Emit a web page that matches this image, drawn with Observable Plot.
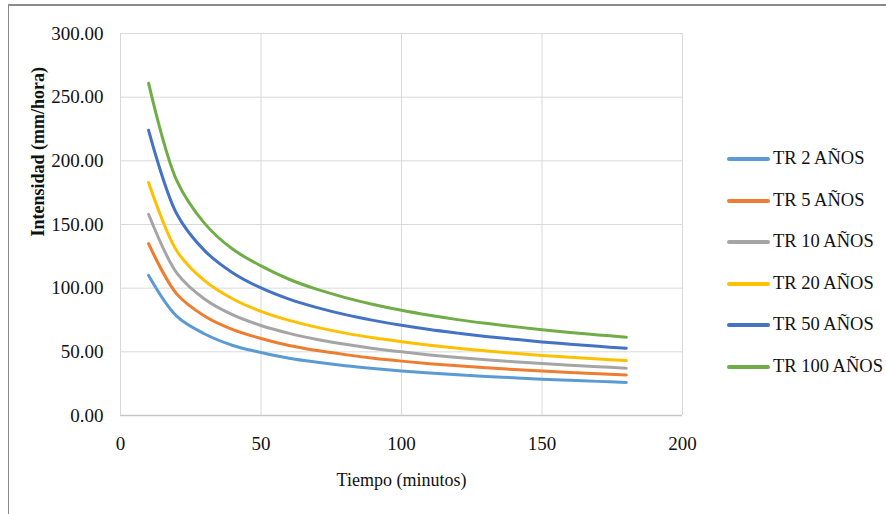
<!DOCTYPE html>
<html>
<head>
<meta charset="utf-8">
<script src="https://cdn.jsdelivr.net/npm/d3@7"></script>
<script src="https://cdn.jsdelivr.net/npm/@observablehq/plot@0.6"></script>
<style>
  html, body { margin: 0; padding: 0; background: #fff; }
  #wrap { position: relative; width: 886px; height: 514px; overflow: hidden; font-family: "Liberation Serif", "Times New Roman", serif; }
  #frameTop { position: absolute; left: 8px; top: 4px; width: 878px; height: 0; border-top: 2px solid #8a8a8a; }
  #frameLeft { position: absolute; left: 8px; top: 4px; width: 0; height: 510px; border-left: 1.5px solid #8a8a8a; }
  #legend { position: absolute; left: 727px; top: 0; }
  .item { position: absolute; left: 0; white-space: nowrap; height: 0; }
  .swatch { position: absolute; left: 0; top: -2px; width: 43px; height: 4px; border-radius: 2px; }
  .lab { position: absolute; left: 46px; top: -12px; font-size: 18.5px; line-height: 23px; color: #111; }
</style>
</head>
<body>
<div id="wrap">
  <div id="chart"></div>
  <div id="frameTop"></div>
  <div id="frameLeft"></div>
  <div id="legend"></div>
</div>
<script>
// Duration (minutes)
const durations = [10, 20, 30, 40, 50, 60, 70, 80, 90, 100, 110, 120, 130, 140, 150, 160, 170, 180];
// Intensity (mm/hora) per return period
const tr2   = [110, 78, 64, 55, 49.5, 45, 41.8, 39.1, 36.9, 35, 33.4, 32, 30.7, 29.6, 28.5, 27.6, 26.8, 26];
const tr5   = [135, 95.5, 78, 67.5, 60.5, 55, 51, 47.8, 45, 42.7, 40.7, 39, 37.5, 36.1, 34.9, 33.8, 32.8, 31.9];
const tr10  = [158, 112, 91.3, 79, 70.7, 64.5, 59.7, 55.9, 52.7, 50, 47.6, 45.6, 43.8, 42.2, 40.8, 39.5, 38.3, 37.2];
const tr20  = [183, 129.4, 105.7, 91.5, 81.8, 74.7, 69.2, 64.7, 61, 57.9, 55.2, 52.8, 50.8, 48.9, 47.2, 45.8, 44.4, 43.1];
const tr50  = [224, 158.4, 129.3, 112, 100.2, 91.4, 84.7, 79.2, 74.7, 70.8, 67.5, 64.7, 62.1, 59.9, 57.8, 56, 54.3, 52.8];
const tr100 = [261, 184.6, 150.7, 130.5, 117.5, 107, 99, 92.6, 87.2, 82.6, 78.7, 75.3, 72.4, 69.8, 67.4, 65.2, 63.3, 61.5];

const seriesNames = ["TR 2 AÑOS", "TR 5 AÑOS", "TR 10 AÑOS", "TR 20 AÑOS", "TR 50 AÑOS", "TR 100 AÑOS"];
const seriesValues = [tr2, tr5, tr10, tr20, tr50, tr100];
const seriesColors = ["#5B9BD5", "#ED7D31", "#A5A5A5", "#FFC000", "#4472C4", "#70AD47"];

const xTicks = [0, 50, 100, 150, 200];
const yTicks = [0, 50, 100, 150, 200, 250, 300];

const xTitle = "Tiempo (minutos)";
const yTitle = "Intensidad (mm/hora)";

const rows = [];
seriesNames.forEach((name, i) => {
  durations.forEach((d, j) => rows.push({series: name, t: d, v: seriesValues[i][j]}));
});

const chart = Plot.plot({
  width: 886,
  height: 514,
  marginLeft: 120,
  marginRight: 204,
  marginTop: 33,
  marginBottom: 99,
  style: {fontFamily: "Liberation Serif, Times New Roman, serif", fontSize: "19px", color: "#111", background: "transparent", overflow: "visible"},
  x: {domain: [0, 200]},
  y: {domain: [0, 300]},
  color: {domain: seriesNames, range: seriesColors},
  marks: [
    Plot.gridX(xTicks, {stroke: "#d9d9d9", strokeOpacity: 1, strokeWidth: 1}),
    Plot.gridY(yTicks.filter(d => d > 0), {stroke: "#d9d9d9", strokeOpacity: 1, strokeWidth: 1}),
    Plot.ruleY([0], {stroke: "#c6c6c6", strokeWidth: 1.5}),
    Plot.line(rows, {x: "t", y: "v", z: "series", stroke: "series", strokeWidth: 3, curve: "catmull-rom", strokeLinecap: "round", strokeLinejoin: "round"}),
    Plot.axisX(xTicks, {tickSize: 0, tickPadding: 21, label: null, fontSize: 19, tickFormat: d => String(d)}),
    Plot.axisY(yTicks, {tickSize: 0, tickPadding: 17, label: null, fontSize: 19, tickFormat: d3.format(".2f")}),
    Plot.text([xTitle], {frameAnchor: "bottom", dy: 65, text: d => d, fontSize: 18, lineAnchor: "middle"}),
    Plot.text([yTitle], {frameAnchor: "left", dx: -82, dy: 12, rotate: -90, text: d => d, fontSize: 18, fontWeight: "bold", lineAnchor: "middle"})
  ]
});
document.getElementById("chart").appendChild(chart);

// Legend (HTML, right side)
const legendY = [159, 201, 242, 284, 325, 367];
const legend = document.getElementById("legend");
seriesNames.forEach((name, i) => {
  const item = document.createElement("div");
  item.className = "item";
  item.style.top = legendY[i] + "px";
  const sw = document.createElement("div");
  sw.className = "swatch";
  sw.style.background = seriesColors[i];
  const lab = document.createElement("div");
  lab.className = "lab";
  lab.textContent = name;
  item.appendChild(sw);
  item.appendChild(lab);
  legend.appendChild(item);
});
</script>
</body>
</html>
